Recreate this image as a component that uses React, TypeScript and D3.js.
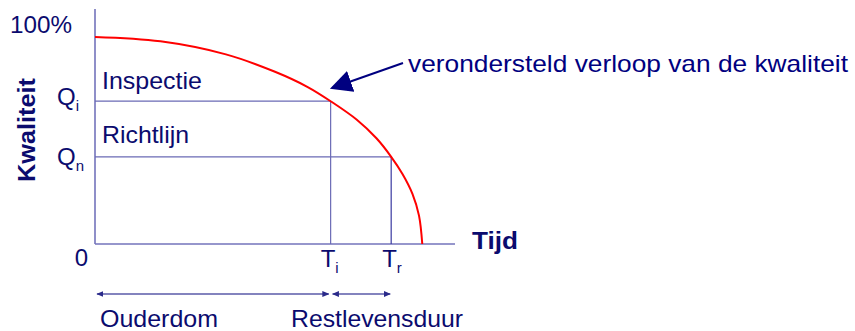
import React from 'react';
import * as d3 from 'd3';

// quality curve (time %, quality %)
const curveTime = [0, 20, 40, 55, 65, 72, 80, 86, 90.5, 94, 97, 99, 100];
const curveQuality = [95, 93, 87, 79, 72, 65.5, 57, 48.5, 40, 32, 23, 13, 0];

const qInspect = 65.5;
const qNorm = 40;
const tInspect = 72;
const tRest = 90.5;
const tMax = 110;

const W = 855;
const H = 331;
const NAVY = '#0b0b6e';
const AXIS = '#7373bb';
const FONT = "'Liberation Sans', Arial, sans-serif";

const App = () => {
  const x = d3.scaleLinear().domain([0, tMax]).range([95, 455]);
  const y = d3.scaleLinear().domain([0, 100]).range([244, 26]);

  const pts = curveTime.map((t, i) => [t, curveQuality[i]] as [number, number]);
  const line = d3.line<[number, number]>()
    .x(d => x(d[0]))
    .y(d => y(d[1]))
    .curve(d3.curveCatmullRom.alpha(0.5));

  const arrowY = 294;

  return (
    <>
      <style>{`body{margin:0;background:#fff}`}</style>
      <svg width={W} height={H} style={{ display: 'block', fontFamily: FONT }}>
        <defs>
          <marker id="big" viewBox="0 0 10 10" refX="9" refY="5" markerWidth="22" markerHeight="22"
            markerUnits="userSpaceOnUse" orient="auto">
            <path d="M0,0 L10,5 L0,10 z" fill="#000080" />
          </marker>
          <marker id="small" viewBox="0 0 10 10" refX="9" refY="5" markerWidth="7" markerHeight="6"
            markerUnits="userSpaceOnUse" orient="auto-start-reverse" preserveAspectRatio="none">
            <path d="M0,0 L10,5 L0,10 z" fill="#2a2a8a" />
          </marker>
        </defs>

        {/* axes */}
        <line x1={x(0)} x2={x(0)} y1={9} y2={y(0)} stroke={AXIS} strokeWidth={1.6} />
        <line x1={x(0)} x2={x(tMax)} y1={y(0)} y2={y(0)} stroke={AXIS} strokeWidth={1.6} />

        {/* guide lines */}
        <line x1={x(0)} x2={x(tInspect)} y1={y(qInspect)} y2={y(qInspect)} stroke="#6a6ab5" strokeWidth={1.2} />
        <line x1={x(tInspect)} x2={x(tInspect)} y1={y(qInspect)} y2={y(0)} stroke="#6a6ab5" strokeWidth={1.2} />
        <line x1={x(0)} x2={x(tRest)} y1={y(qNorm)} y2={y(qNorm)} stroke="#6a6ab5" strokeWidth={1.2} />
        <line x1={x(tRest)} x2={x(tRest)} y1={y(qNorm)} y2={y(0)} stroke="#3a3aa0" strokeWidth={1.2} />

        {/* quality curve */}
        <path d={line(pts) ?? ''} fill="none" stroke="#ff0000" strokeWidth={2} />

        {/* pointer */}
        <line x1={403} y1={63} x2={332} y2={88} stroke="#000080" strokeWidth={2} markerEnd="url(#big)" />
        <text x={408} y={72} fontSize={24} fill="#000080" textLength={440} lengthAdjust="spacingAndGlyphs">
          verondersteld verloop van de kwaliteit
        </text>

        {/* y labels */}
        <text x={10} y={33} fontSize={23} fill={NAVY} textLength={62} lengthAdjust="spacingAndGlyphs">100%</text>
        <text x={57} y={y(qInspect) + 4} fontSize={24} fill={NAVY}>Q<tspan fontSize={15} dy={6}>i</tspan></text>
        <text x={57} y={y(qNorm) + 8} fontSize={24} fill={NAVY}>Q<tspan fontSize={15} dy={6}>n</tspan></text>
        <text x={88} y={266} fontSize={24} fill={NAVY} textAnchor="end">0</text>
        <text transform="translate(35,130) rotate(-90)" fontSize={24} fontWeight="bold" fill={NAVY}
          textAnchor="middle" textLength={104} lengthAdjust="spacingAndGlyphs">Kwaliteit</text>

        <text x={102} y={89} fontSize={24} fill={NAVY} textLength={100} lengthAdjust="spacingAndGlyphs">Inspectie</text>
        <text x={102} y={143} fontSize={24} fill={NAVY} textLength={87} lengthAdjust="spacingAndGlyphs">Richtlijn</text>

        {/* x labels */}
        <text x={x(tInspect) - 10} y={267} fontSize={24} fill={NAVY}>T<tspan fontSize={15} dy={6}>i</tspan></text>
        <text x={x(tRest) - 9} y={267} fontSize={24} fill={NAVY}>T<tspan fontSize={15} dy={6}>r</tspan></text>
        <text x={472} y={249} fontSize={24} fontWeight="bold" fill={NAVY} textLength={46}
          lengthAdjust="spacingAndGlyphs">Tijd</text>

        {/* age / remaining life arrows */}
        <line x1={x(0) + 2} x2={x(tInspect) - 2} y1={arrowY} y2={arrowY} stroke="#5a5aa8" strokeWidth={1.5}
          markerStart="url(#small)" markerEnd="url(#small)" />
        <line x1={x(tInspect) + 2} x2={x(tRest) - 1} y1={arrowY} y2={arrowY} stroke="#5a5aa8" strokeWidth={1.5}
          markerStart="url(#small)" markerEnd="url(#small)" />
        <text x={100} y={327} fontSize={24} fill={NAVY} textLength={118} lengthAdjust="spacingAndGlyphs">Ouderdom</text>
        <text x={291} y={327} fontSize={24} fill={NAVY} textLength={172}
          lengthAdjust="spacingAndGlyphs">Restlevensduur</text>
      </svg>
    </>
  );
};

export default App;
